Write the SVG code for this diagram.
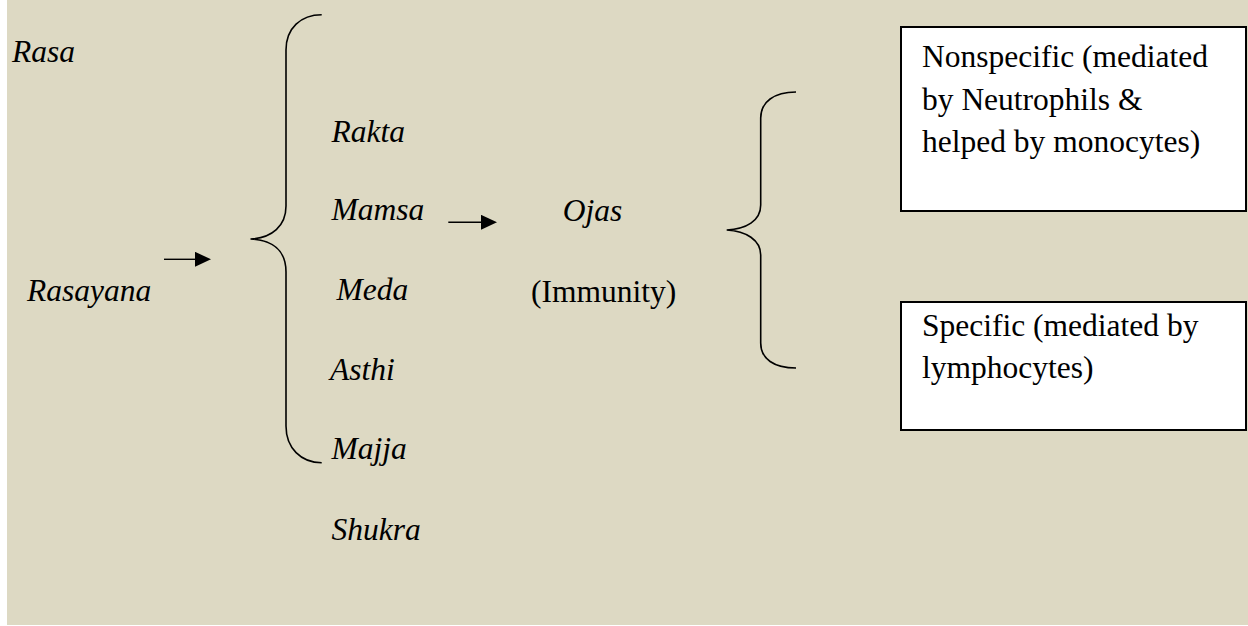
<svg xmlns="http://www.w3.org/2000/svg" width="1248" height="626" viewBox="0 0 1248 626">
  <style>
    .it { font-family: "Liberation Serif", "Times New Roman", serif; font-style: italic; font-size: 31.5px; fill: #000; }
    .rg { font-family: "Liberation Serif", "Times New Roman", serif; font-size: 31.5px; fill: #000; }
    .brace { fill: none; stroke: #000; stroke-width: 1.6; }
    .arrow { fill: none; stroke: #000; stroke-width: 1.4; }
    .box { fill: #FFFFFF; stroke: #000; stroke-width: 2; }
  </style>
  <defs>
    <marker id="head" markerUnits="userSpaceOnUse" markerWidth="16" markerHeight="15" refX="0" refY="7.5" orient="auto">
      <path d="M0,0 L16,7.5 L0,15 z" fill="#000"/>
    </marker>
  </defs>
  <rect x="0" y="0" width="1248" height="626" fill="#FFFFFF"/>
  <rect x="7" y="0" width="1241" height="625" fill="#DDD9C3"/>

  <g id="rasa"><text class="it" x="12" y="62">Rasa</text></g>
  <g id="rasayana"><text class="it" x="27" y="301">Rasayana</text></g>

  <g id="dhatus">
    <text class="it" x="331.5" y="141.7">Rakta</text>
    <text class="it" x="331.5" y="220">Mamsa</text>
    <text class="it" x="336.5" y="299.5">Meda</text>
    <text class="it" x="330" y="380">Asthi</text>
    <text class="it" x="331.5" y="459.3">Majja</text>
    <text class="it" x="331.5" y="540">Shukra</text>
  </g>

  <g id="ojas">
    <text class="it" x="562.7" y="220.7">Ojas</text>
    <text class="rg" x="531" y="301.7">(Immunity)</text>
  </g>

  <g id="nonspecific">
    <rect class="box" x="901" y="27" width="345" height="184"/>
    <text class="rg" x="922" y="67">Nonspecific (mediated</text>
    <text class="rg" x="922" y="109.5">by Neutrophils &amp;</text>
    <text class="rg" x="922" y="152">helped by monocytes)</text>
  </g>

  <g id="specific">
    <rect class="box" x="901" y="302" width="345" height="128"/>
    <text class="rg" x="922" y="336">Specific (mediated by</text>
    <text class="rg" x="922" y="377.5">lymphocytes)</text>
  </g>

  <g id="connectors">
    <line class="arrow" x1="164" y1="259.3" x2="195" y2="259.3" marker-end="url(#head)"/>
    <line class="arrow" x1="448.3" y1="222.3" x2="481" y2="222.3" marker-end="url(#head)"/>
    <path class="brace" d="M321.7,14.7 C301,14.7 286,28 286,50 L286,206 C286,226 272,238 250.5,239 C272,240 286,250 286,272 L286,426 C286,448 301,462.7 321.7,462.7"/>
    <path class="brace" d="M796,92 C774,92 760.7,102 760.7,118 L760.7,205 C760.7,221 746,229 726.7,230 C746,231 760.7,240 760.7,255 L760.7,343 C760.7,359 774,368 796,368"/>
  </g>
</svg>
